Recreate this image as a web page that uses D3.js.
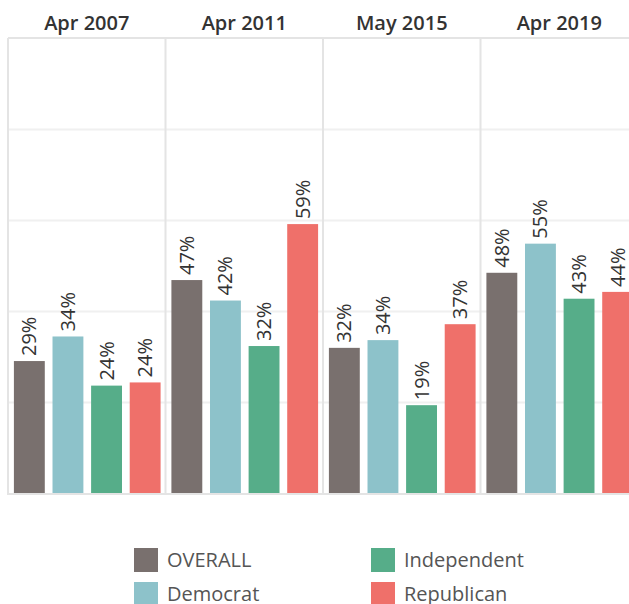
<!DOCTYPE html>
<html>
<head>
<meta charset="utf-8">
<script src="https://cdn.jsdelivr.net/npm/d3@7"></script>
<style>
  body { margin: 0; background: #fff; }
  svg { display: block; }
  text { font-family: "Open Sans", "Noto Sans", sans-serif; }
</style>
</head>
<body>
<div id="chart"></div>
<script>
// survey dates (column panels)
const periods = ['Apr 2007', 'Apr 2011', 'May 2015', 'Apr 2019']
const groups = ['OVERALL', 'Democrat', 'Independent', 'Republican']
const colors = ['#79706e', '#8dc2ca', '#56ad89', '#ef706a']

// percent per group, one array per group, in period order
const overall = [29, 46.8, 31.9, 48.4]
const democrat = [34.4, 42.3, 33.6, 54.8]
const independent = [23.6, 32.3, 19.3, 42.7]
const republican = [24.3, 59.1, 37.1, 44.2]
const series = [overall, democrat, independent, republican]

const width = 629
const height = 604
const plotLeft = 8
const plotTop = 38
const plotBottom = 493
const panelW = 157.5

const svg = d3.select('#chart')
  .append('svg')
  .attr('width', width)
  .attr('height', height)

const y = d3.scaleLinear().domain([0, 100]).range([plotBottom, plotTop])

const px = d3.scaleBand()
  .domain(periods)
  .range([plotLeft, plotLeft + panelW * periods.length])

const bx = d3.scaleBand()
  .domain(groups)
  .range([0, panelW])
  .paddingInner(0.2)
  .paddingOuter(0.14)

const color = d3.scaleOrdinal().domain(groups).range(colors)
const fmt = d3.format('.0f')

// horizontal gridlines
svg.append('g')
  .attr('transform', `translate(${plotLeft}, 0)`)
  .call(d3.axisRight(y).tickValues([20, 40, 60, 80]).tickSize(width).tickFormat(''))
  .call(g => g.select('.domain').remove())
  .call(g => g.selectAll('line').attr('stroke', '#f0f0f0').attr('stroke-width', 2))

// top border + baseline
svg.append('line')
  .attr('x1', plotLeft).attr('x2', width).attr('y1', plotTop).attr('y2', plotTop)
  .attr('stroke', '#e4e4e4').attr('stroke-width', 2)
svg.append('line')
  .attr('x1', plotLeft).attr('x2', width).attr('y1', plotBottom + 1).attr('y2', plotBottom + 1)
  .attr('stroke', '#e4e4e4').attr('stroke-width', 2)

// panel separators
svg.append('g')
  .selectAll('line')
  .data(periods)
  .enter()
  .append('line')
  .attr('x1', d => px(d)).attr('x2', d => px(d))
  .attr('y1', plotTop).attr('y2', plotBottom + 2)
  .attr('stroke', '#e4e4e4').attr('stroke-width', 2)

// header labels
svg.append('g')
  .selectAll('text')
  .data(periods)
  .enter()
  .append('text')
  .attr('x', d => px(d) + panelW / 2)
  .attr('y', 30)
  .attr('text-anchor', 'middle')
  .style('font-size', '20px')
  .style('font-weight', 600)
  .style('fill', '#333')
  .text(d => d)

// bars
const panels = svg.append('g')
  .selectAll('g')
  .data(periods)
  .enter()
  .append('g')
  .attr('transform', d => `translate(${px(d)}, 0)`)

const cells = panels.selectAll('g')
  .data((d, i) => groups.map((gName, j) => ({group: gName, value: series[j][i]})))
  .enter()
  .append('g')

cells.append('rect')
  .attr('x', d => bx(d.group) + 0.5)
  .attr('y', d => y(d.value))
  .attr('width', bx.bandwidth())
  .attr('height', d => plotBottom - y(d.value))
  .style('fill', d => color(d.group))

cells.append('text')
  .attr('transform', d => `translate(${bx(d.group) + 0.5 + bx.bandwidth() / 2 + 7}, ${y(d.value) - 5}) rotate(-90)`)
  .style('font-size', '20px')
  .style('fill', '#333')
  .text(d => fmt(d.value) + '%')

// legend
const legend = svg.append('g')
  .selectAll('g')
  .data(groups)
  .enter()
  .append('g')
  .attr('transform', (d, i) => `translate(${134 + Math.floor(i / 2) * 237}, ${548 + (i % 2) * 34})`)

legend.append('rect')
  .attr('width', 24)
  .attr('height', 24)
  .style('fill', d => color(d))

legend.append('text')
  .attr('x', 33)
  .attr('y', 19)
  .style('font-size', '20px')
  .style('fill', '#555')
  .text(d => d)
</script>
</body>
</html>
